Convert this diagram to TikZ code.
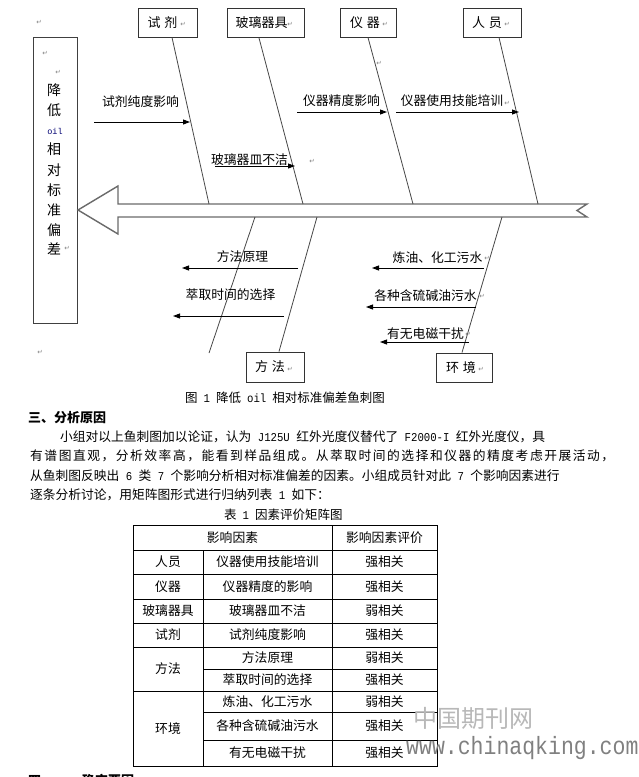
\documentclass[tikz,border=0pt]{standalone}
\usepackage{fontspec}
\setmainfont{Noto Sans CJK SC}
\newfontfamily\symfont{DejaVu Sans}
\newfontfamily\latmono{Liberation Mono}
\newfontfamily\widecjk[LetterSpace=12]{Noto Sans CJK SC}
\newcommand\halfw[1]{\scalebox{0.89}[1]{\latmono\fontsize{12}{12}\selectfont #1}}
\usetikzlibrary{arrows.meta,calc}
\begin{document}
\begin{tikzpicture}[x=1pt,y=-1pt,
  catbox/.style={draw=black!80, line width=0.9pt, inner sep=0pt, minimum height=29pt},
  cattext/.style={inner sep=0pt, font=\fontsize{13}{13}\selectfont},
  bone/.style={draw=black!72, line width=0.8pt},
  spine/.style={draw=black!58, line width=1.4pt, line join=miter},
  branch/.style={draw=black, line width=0.9pt, -{Triangle[length=7pt,width=5pt]}},
  lab/.style={inner sep=0pt, font=\fontsize{12.8}{12.8}\selectfont},
  pmark/.style={inner sep=0pt, font=\symfont\fontsize{6.5}{6.5}\selectfont, text=black!50},
  para/.style={inner sep=0pt, anchor=west, font=\fontsize{12.75}{12.75}\selectfont},
  cell/.style={inner sep=0pt, font=\fontsize{12.8}{12.8}\selectfont},
  tline/.style={draw=black, line width=0.9pt},
  boxchar/.style={inner sep=0pt, font=\fontsize{14}{14}\selectfont}
]
\useasboundingbox (0,0) rectangle (639,777);
\fill[white] (0,0) rectangle (639,777);

% ---------- left effect box ----------
\draw[draw=black!75, line width=0.9pt] (33,37) rectangle (77,323);
\node[boxchar] (e1) at (54,90) {降};
\node[boxchar] (e2) at (54,110) {低};
\node[inner sep=0pt, font=\latmono\fontsize{8.5}{8.5}\selectfont, text=blue!45!black] (e3) at (55,131) {oil};
\node[boxchar] (e4) at (54,149) {相};
\node[boxchar] (e5) at (54,170) {对};
\node[boxchar] (e6) at (54,190) {标};
\node[boxchar] (e7) at (54,210) {准};
\node[boxchar] (e8) at (54,230) {偏};
\node[boxchar] (e9) at (54,249) {差};

% ---------- spine ----------
\draw[spine] (78,210) -- (118,186) -- (118,204) -- (587,204) -- (577,210.5) -- (587,217) -- (118,217) -- (118,234) -- cycle;

% ---------- category boxes ----------
\node[catbox, minimum width=59pt] (c1) at (167.5,22.5) {};
\node[cattext] (c1t) at (162.5,22.5) {试\hspace{4pt}剂};
\node[catbox, minimum width=77pt] (c2) at (265.5,23) {};
\node[cattext] (c2t) at (261.5,23) {玻璃器具};
\node[catbox, minimum width=56pt] (c3) at (368,22.5) {};
\node[cattext] (c3t) at (365,22.5) {仪\hspace{4pt}器};
\node[catbox, minimum width=58pt] (c4) at (492,22.5) {};
\node[cattext] (c4t) at (487,22.5) {人\hspace{4pt}员};
\node[catbox, minimum width=58pt, minimum height=30pt] (c5) at (275,367) {};
\node[cattext] (c5t) at (270,367) {方\hspace{4pt}法};
\node[catbox, minimum width=56pt] (c6) at (464,367.5) {};
\node[cattext] (c6t) at (461,367.5) {环\hspace{4pt}境};

% ---------- bones ----------
\coordinate (s1) at (209,204);
\coordinate (s2) at (303,204);
\coordinate (s3) at (413,204);
\coordinate (s4) at (538,204);
\coordinate (s5) at (317,217);
\coordinate (s6) at (502,217);
\coordinate (s7) at (255,217);
\coordinate (f7) at (209,353);
\draw[bone] ($(c1.south)+(4.5,0)$) -- (s1);
\draw[bone] ($(c2.south)+(-6.5,0)$) -- (s2);
\draw[bone] (c3.south) -- (s3);
\draw[bone] ($(c4.south)+(7,0)$) -- (s4);
\draw[bone] ($(c5.north)+(4,0)$) -- (s5);
\draw[bone] ($(c6.north)+(-2,0)$) -- (s6);
\draw[bone] (s7) -- (f7);

% ---------- branches ----------
\node[lab] (l1) at (140.5,102) {试剂纯度影响};
\coordinate (a1s) at (94,122);   \coordinate (a1e) at (190,122);
\draw[branch] (a1s) -- (a1e);
\node[lab] (l2) at (249.5,160) {玻璃器皿不洁};
\coordinate (a2s) at (215,166);  \coordinate (a2e) at (295,166);
\draw[branch] (a2s) -- (a2e);
\node[lab] (l3) at (341.5,101) {仪器精度影响};
\coordinate (a3s) at (297,112);  \coordinate (a3e) at (387,112);
\draw[branch] (a3s) -- (a3e);
\node[lab] (l4) at (452,101) {仪器使用技能培训};
\coordinate (a4s) at (396,112);  \coordinate (a4e) at (519,112);
\draw[branch] (a4s) -- (a4e);
\node[lab] (l5) at (242.5,257) {方法原理};
\coordinate (a5s) at (298,268);  \coordinate (a5e) at (182,268);
\draw[branch] (a5s) -- (a5e);
\node[lab] (l6) at (230.5,295) {萃取时间的选择};
\coordinate (a6s) at (284,316);  \coordinate (a6e) at (173,316);
\draw[branch] (a6s) -- (a6e);
\node[lab] (l7) at (437.5,258) {炼油、化工污水};
\coordinate (a7s) at (484,268);  \coordinate (a7e) at (372,268);
\draw[branch] (a7s) -- (a7e);
\node[lab] (l8) at (425.5,296) {各种含硫碱油污水};
\coordinate (a8s) at (476,307);  \coordinate (a8e) at (366,307);
\draw[branch] (a8s) -- (a8e);
\node[lab] (l9) at (425.5,334) {有无电磁干扰};
\coordinate (a9s) at (469,342);  \coordinate (a9e) at (380,342);
\draw[branch] (a9s) -- (a9e);

% ---------- paragraph marks ----------
\node[pmark] (p1) at (39,22) {↵};
\node[pmark] (p2) at (45,53) {↵};
\node[pmark] (p3) at (58,72) {↵};
\node[pmark] (p4) at (67,248) {↵};
\node[pmark] (p5) at (40,352) {↵};
\node[pmark] (p6) at (183,24) {↵};
\node[pmark] (p7) at (290,24) {↵};
\node[pmark] (p8) at (385,24) {↵};
\node[pmark] (p9) at (507,24) {↵};
\node[pmark] (p10) at (379,63) {↵};
\node[pmark] (p11) at (312,161) {↵};
\node[pmark] (p12) at (507,103) {↵};
\node[pmark] (p13) at (290,369) {↵};
\node[pmark] (p14) at (481,369) {↵};
\node[pmark] (p15) at (487,258) {↵};
\node[pmark] (p16) at (482,296) {↵};
\node[pmark] (p17) at (468,334) {↵};

% ---------- caption and text ----------
\node[para, font=\fontsize{12.5}{12.5}\selectfont] (cap) at (185,398) {图\hspace{6pt}\halfw{1}\hspace{6pt}降低\hspace{6pt}\halfw{oil}\hspace{6pt}相对标准偏差鱼刺图};
\node[para, font=\bfseries\fontsize{13}{13}\selectfont] (head) at (28,418) {三、分析原因};
\node[para] (pl1) at (60,437) {小组对以上鱼刺图加以论证，认为\hspace{6.4pt}\halfw{J125U}\hspace{6.4pt}红外光度仪替代了\hspace{6.4pt}\halfw{F2000-I}\hspace{6.4pt}红外光度仪，具};
\node[para, font=\widecjk\fontsize{12.75}{12.75}\selectfont] (pl2) at (30,456) {有谱图直观，分析效率高，能看到样品组成。从萃取时间的选择和仪器的精度考虑开展活动，};
\node[para] (pl3) at (30,476) {从鱼刺图反映出\hspace{6.4pt}\halfw{6}\hspace{6.4pt}类\hspace{6.4pt}\halfw{7}\hspace{6.4pt}个影响分析相对标准偏差的因素。小组成员针对此\hspace{6.4pt}\halfw{7}\hspace{6.4pt}个影响因素进行};
\node[para] (pl4) at (30,495) {逐条分析讨论，用矩阵图形式进行归纳列表\hspace{6.4pt}\halfw{1}\hspace{6.4pt}如下：};

% ---------- table ----------
\node[para, font=\fontsize{12.5}{12.5}\selectfont] (ttl) at (224,515) {表\hspace{6pt}\halfw{1}\hspace{6pt}因素评价矩阵图};
\draw[tline] (133,525) rectangle (437,766);
\foreach \yy in {550,574,599,623,647,691} \draw[tline] (133,\yy) -- (437,\yy);
\foreach \yy in {669,712,740} \draw[tline] (203,\yy) -- (437,\yy);
\draw[tline] (203,550) -- (203,766);
\draw[tline] (332,525) -- (332,766);

\node[cell] (h1) at (232.5,537.5) {影响因素};
\node[cell] (h2) at (384.5,537.5) {影响因素评价};
\node[cell] (r1a) at (168,562) {人员};
\node[cell] (r1b) at (267.5,562) {仪器使用技能培训};
\node[cell] (r1c) at (384.5,562) {强相关};
\node[cell] (r2a) at (168,586.5) {仪器};
\node[cell] (r2b) at (267.5,586.5) {仪器精度的影响};
\node[cell] (r2c) at (384.5,586.5) {强相关};
\node[cell] (r3a) at (168,611) {玻璃器具};
\node[cell] (r3b) at (267.5,611) {玻璃器皿不洁};
\node[cell] (r3c) at (384.5,611) {弱相关};
\node[cell] (r4a) at (168,635) {试剂};
\node[cell] (r4b) at (267.5,635) {试剂纯度影响};
\node[cell] (r4c) at (384.5,635) {强相关};
\node[cell] (r5a) at (168,669) {方法};
\node[cell] (r5b) at (267.5,658) {方法原理};
\node[cell] (r5c) at (384.5,658) {弱相关};
\node[cell] (r6b) at (267.5,680) {萃取时间的选择};
\node[cell] (r6c) at (384.5,680) {强相关};
\node[cell] (r7a) at (168,729) {环境};
\node[cell] (r7b) at (267.5,701.5) {炼油、化工污水};
\node[cell] (r7c) at (384.5,701.5) {弱相关};
\node[cell] (r8b) at (267.5,726) {各种含硫碱油污水};
\node[cell] (r8c) at (384.5,726) {强相关};
\node[cell] (r9b) at (267.5,753) {有无电磁干扰};
\node[cell] (r9c) at (384.5,753) {强相关};

% ---------- next heading (cut by page edge, as in the reference) ----------
\node[para, font=\bfseries\fontsize{13}{13}\selectfont] (next) at (28,780) {四、\hspace{28pt}确定要因};

% ---------- watermark ----------
\node[inner sep=0pt, text=black!28, font=\fontsize{24}{24}\selectfont] (wm1) at (473,718) {中国期刊网};
\node[inner sep=0pt, anchor=west, text=black!50, font=\latmono\fontsize{25}{25}\selectfont] (wm2) at (406,748) {\scalebox{0.86}[1]{www.chinaqking.com}};
\end{tikzpicture}
\end{document}
